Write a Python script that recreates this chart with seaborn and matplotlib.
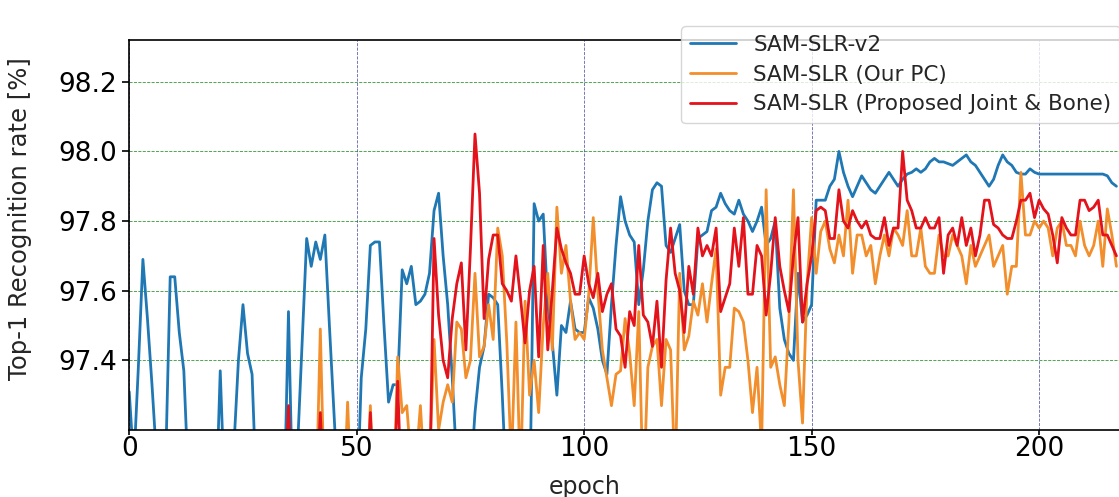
import numpy as np
import pandas as pd
import matplotlib
matplotlib.use("Agg")
import matplotlib.pyplot as plt
import seaborn as sns

epochs = list(range(218))

sam_slr_v2 = [
    97.31, 97.10, 97.38, 97.69, 97.52, 97.33, 97.12, 96.95, 97.10, 97.64,
    97.64, 97.48, 97.37, 97.05, 96.90, 96.90, 96.90, 96.90, 96.90, 96.95,
    97.37, 97.00, 96.95, 97.15, 97.40, 97.56, 97.42, 97.36, 97.00, 96.90,
    96.90, 96.90, 96.90, 96.90, 96.95, 97.54, 96.95, 97.15, 97.45, 97.75,
    97.67, 97.74, 97.69, 97.76, 97.50, 97.25, 97.00, 96.90, 96.90, 96.90,
    96.95, 97.35, 97.49, 97.73, 97.74, 97.74, 97.50, 97.28, 97.33, 97.33,
    97.66, 97.62, 97.67, 97.56, 97.57, 97.59, 97.65, 97.83, 97.88, 97.70,
    97.56, 97.35, 97.10, 96.95, 96.90, 97.05, 97.25, 97.38, 97.44, 97.59,
    97.58, 97.56, 97.30, 97.00, 96.90, 96.90, 96.90, 96.90, 96.95, 97.85,
    97.80, 97.82, 97.56, 97.45, 97.30, 97.50, 97.48, 97.57, 97.49, 97.48,
    97.48, 97.58, 97.55, 97.49, 97.40, 97.36, 97.56, 97.73, 97.87, 97.80,
    97.76, 97.74, 97.56, 97.66, 97.80, 97.89, 97.91, 97.90, 97.73, 97.71,
    97.75, 97.79, 97.60, 97.56, 97.56, 97.75, 97.76, 97.77, 97.83, 97.84,
    97.88, 97.85, 97.83, 97.82, 97.86, 97.82, 97.80, 97.77, 97.80, 97.84,
    97.73, 97.75, 97.80, 97.55, 97.46, 97.42, 97.40, 97.65, 97.51, 97.53,
    97.56, 97.86, 97.86, 97.86, 97.90, 97.92, 98.00, 97.94, 97.90, 97.87,
    97.90, 97.93, 97.91, 97.89, 97.88, 97.90, 97.92, 97.94, 97.92, 97.90,
    97.92, 97.935, 97.94, 97.95, 97.94, 97.95, 97.97, 97.98, 97.97, 97.97,
    97.965, 97.96, 97.97, 97.98, 97.99, 97.97, 97.96, 97.94, 97.92, 97.90,
    97.92, 97.96, 97.99, 97.97, 97.96, 97.94, 97.935, 97.935, 97.95, 97.94,
    97.935, 97.935, 97.935, 97.935, 97.935, 97.935, 97.935, 97.935, 97.935, 97.935,
    97.935, 97.935, 97.935, 97.935, 97.935, 97.93, 97.91, 97.90,
]

sam_slr_our_pc = [
    96.90, 96.90, 96.90, 96.90, 96.90, 96.90, 96.90, 96.90, 96.90, 96.90,
    96.90, 96.90, 96.90, 96.90, 96.90, 96.90, 96.90, 96.90, 96.90, 96.90,
    96.90, 96.90, 96.90, 96.90, 96.90, 96.90, 96.90, 96.90, 96.90, 96.90,
    96.90, 96.90, 96.90, 96.90, 96.90, 96.90, 96.90, 96.90, 96.90, 96.90,
    96.90, 96.95, 97.49, 96.95, 96.90, 96.90, 96.90, 96.95, 97.28, 96.95,
    96.90, 96.90, 96.95, 97.27, 96.95, 96.90, 96.90, 96.90, 96.95, 97.41,
    97.25, 97.27, 97.10, 97.10, 97.27, 97.05, 97.10, 97.46, 97.20, 97.28,
    97.33, 97.28, 97.51, 97.49, 97.35, 97.40, 97.65, 97.41, 97.44, 97.56,
    97.46, 97.78, 97.70, 97.45, 97.10, 97.51, 97.05, 97.57, 97.30, 97.40,
    97.25, 97.50, 97.65, 97.43, 97.84, 97.65, 97.73, 97.57, 97.46, 97.48,
    97.46, 97.59, 97.81, 97.60, 97.43, 97.35, 97.27, 97.36, 97.37, 97.52,
    97.42, 97.27, 97.54, 97.00, 97.38, 97.44, 97.46, 97.27, 97.46, 97.43,
    97.05, 97.65, 97.43, 97.47, 97.57, 97.53, 97.62, 97.51, 97.62, 97.72,
    97.30, 97.38, 97.38, 97.55, 97.54, 97.51, 97.40, 97.25, 97.38, 97.15,
    97.89, 97.38, 97.41, 97.33, 97.27, 97.51, 97.89, 97.40, 97.22, 97.62,
    97.81, 97.65, 97.77, 97.80, 97.72, 97.68, 97.76, 97.70, 97.86, 97.65,
    97.76, 97.76, 97.70, 97.73, 97.62, 97.70, 97.76, 97.70, 97.78, 97.76,
    97.73, 97.83, 97.70, 97.70, 97.78, 97.67, 97.65, 97.65, 97.76, 97.70,
    97.70, 97.76, 97.73, 97.70, 97.62, 97.73, 97.67, 97.70, 97.73, 97.76,
    97.67, 97.70, 97.73, 97.59, 97.67, 97.67, 97.94, 97.76, 97.76, 97.80,
    97.78, 97.80, 97.78, 97.70, 97.78, 97.80, 97.73, 97.73, 97.70, 97.80,
    97.73, 97.70, 97.73, 97.80, 97.67, 97.835, 97.76, 97.67,
]

sam_slr_joint_bone = [
    96.90, 96.90, 96.90, 96.90, 96.90, 96.90, 96.90, 96.90, 96.90, 96.90,
    96.90, 96.90, 96.90, 96.90, 96.90, 96.90, 96.90, 96.90, 96.90, 96.90,
    96.90, 96.90, 96.90, 96.90, 96.90, 96.90, 96.90, 96.90, 96.90, 96.90,
    96.90, 96.90, 96.90, 96.90, 96.95, 97.27, 96.95, 96.90, 96.90, 96.90,
    96.90, 96.95, 97.25, 96.95, 96.90, 96.90, 96.90, 96.90, 96.90, 96.90,
    96.90, 96.90, 96.95, 97.25, 96.95, 96.90, 96.90, 96.90, 96.95, 97.34,
    96.95, 96.90, 96.90, 96.90, 96.90, 96.90, 97.00, 97.75, 97.53, 97.40,
    97.35, 97.52, 97.62, 97.68, 97.43, 97.72, 98.05, 97.88, 97.52, 97.69,
    97.76, 97.76, 97.62, 97.60, 97.57, 97.70, 97.58, 97.45, 97.60, 97.67,
    97.41, 97.73, 97.43, 97.60, 97.78, 97.72, 97.68, 97.65, 97.59, 97.59,
    97.70, 97.62, 97.58, 97.65, 97.54, 97.59, 97.62, 97.49, 97.47, 97.38,
    97.54, 97.50, 97.73, 97.53, 97.51, 97.44, 97.57, 97.38, 97.63, 97.78,
    97.65, 97.60, 97.48, 97.67, 97.59, 97.78, 97.70, 97.73, 97.70, 97.78,
    97.54, 97.58, 97.62, 97.78, 97.67, 97.81, 97.59, 97.59, 97.73, 97.70,
    97.53, 97.65, 97.81, 97.67, 97.60, 97.54, 97.70, 97.81, 97.51, 97.62,
    97.70, 97.83, 97.84, 97.83, 97.75, 97.75, 97.89, 97.80, 97.78, 97.83,
    97.80, 97.78, 97.80, 97.76, 97.75, 97.75, 97.81, 97.73, 97.78, 97.78,
    98.00, 97.86, 97.83, 97.78, 97.78, 97.81, 97.78, 97.78, 97.81, 97.65,
    97.76, 97.78, 97.73, 97.81, 97.73, 97.78, 97.70, 97.76, 97.86, 97.86,
    97.79, 97.78, 97.76, 97.75, 97.75, 97.80, 97.86, 97.86, 97.88, 97.81,
    97.86, 97.835, 97.82, 97.76, 97.68, 97.81, 97.78, 97.76, 97.76, 97.86,
    97.86, 97.83, 97.84, 97.86, 97.76, 97.76, 97.73, 97.70,
]

series_names = ["SAM-SLR-v2", "SAM-SLR (Our PC)", "SAM-SLR (Proposed Joint & Bone)"]
series_colors = ["#1f77b4", "#f28e2b", "#e3121b"]
x_ticks = [0, 50, 100, 150, 200]
y_ticks = [97.4, 97.6, 97.8, 98.0, 98.2]

sns.set_theme(style="ticks")
plt.rcParams["font.family"] = ["DejaVu Sans"]

fig = plt.figure(figsize=(11.19, 4.97), dpi=100)
ax = fig.add_axes([0.1155, 0.1348, 0.8944, 0.7847])

for name, vals, col in zip(series_names,
                           [sam_slr_v2, sam_slr_our_pc, sam_slr_joint_bone],
                           series_colors):
    df = pd.DataFrame({"epoch": epochs, "rate": vals})
    sns.lineplot(data=df, x="epoch", y="rate", ax=ax, color=col,
                 linewidth=2.0, label=name)

ax.set_xlim(0, 220)
ax.set_ylim(97.2, 98.32)
ax.set_xticks(x_ticks)
ax.set_yticks(y_ticks)
ax.set_yticklabels([f"{v:.1f}" for v in y_ticks])
ax.tick_params(axis="both", labelsize=19, length=5, width=1.2, colors="black")
ax.tick_params(axis="x", length=3.5, pad=0.5)

ax.yaxis.grid(True, color="green", linestyle="--", linewidth=0.6, alpha=0.8)
ax.xaxis.grid(True, color="#3a3a9a", linestyle="--", linewidth=0.6, alpha=0.8)

for s in ax.spines.values():
    s.set_color("black")
    s.set_linewidth(1.2)

ax.set_xlabel("epoch", fontsize=17)
ax.set_ylabel("Top-1 Recognition rate [%]", fontsize=17.5)
ax.xaxis.set_label_coords(0.4554, -0.115)
ax.yaxis.set_label_coords(-0.097, 0.542)

leg = ax.legend(loc="upper right", bbox_to_anchor=(0.990, 1.035),
                borderaxespad=0, fontsize=15.5, frameon=True, fancybox=True,
                framealpha=0.8, edgecolor="#cccccc", handlelength=2.15,
                labelspacing=0.45)

fig.savefig("out.png", dpi=100)
